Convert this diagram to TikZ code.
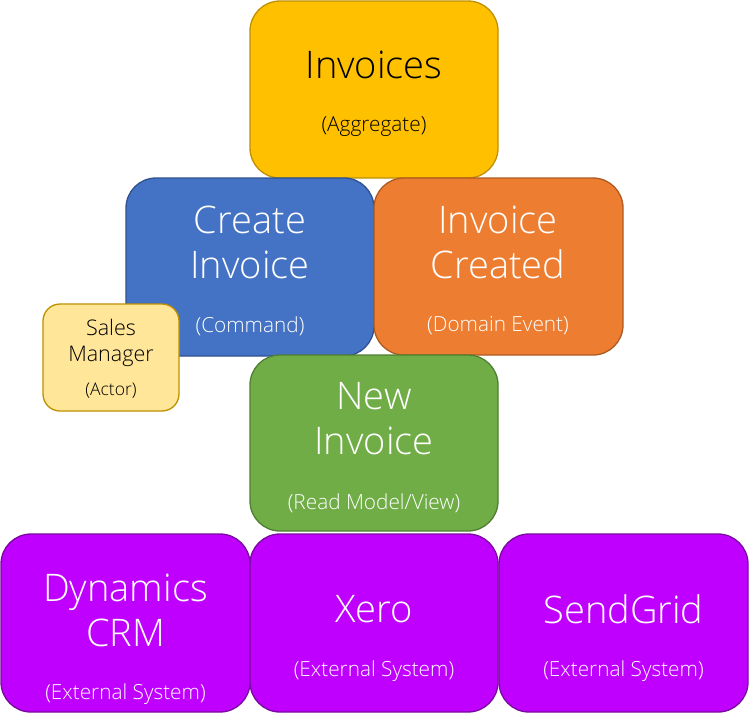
\documentclass[tikz,border=0pt]{standalone}
\usepackage{fontspec}
\setmainfont{Open Sans Light}
\definecolor{aggfill}{HTML}{FFC000}
\definecolor{aggline}{HTML}{BF9000}
\definecolor{cmdfill}{HTML}{4472C4}
\definecolor{cmdline}{HTML}{2F528F}
\definecolor{evtfill}{HTML}{ED7D31}
\definecolor{evtline}{HTML}{AE5A21}
\definecolor{actfill}{HTML}{FFE699}
\definecolor{actline}{HTML}{BF9000}
\definecolor{rmfill}{HTML}{70AD47}
\definecolor{rmline}{HTML}{507E32}
\definecolor{extfill}{HTML}{C000FF}
\definecolor{extline}{HTML}{7A0A9E}
\tikzset{
  box/.style={draw=#1line, fill=#1fill, line width=1.3pt, rounded corners=30pt},
  small/.style={draw=#1line, fill=#1fill, line width=1.3pt, rounded corners=17pt},
  title/.style={font=\fontsize{38}{45}\selectfont, align=center, inner sep=0pt, anchor=center},
  sub/.style={font=\fontsize{20.8}{24}\selectfont, inner sep=0pt, anchor=center},
  atitle/.style={font=\fontsize{21.5}{26}\selectfont, align=center, inner sep=0pt, anchor=center},
  asub/.style={font=\fontsize{17.5}{20}\selectfont, inner sep=0pt, anchor=center},
}
\begin{document}
\begin{tikzpicture}[x=1pt,y=-1pt]
\useasboundingbox (0,0) rectangle (749,718);
% Aggregate
\draw[box=agg] (250,1) rectangle (498,178);
\node[title,text=black] (invT) at (374,65) {Invoices};
\node[sub,text=black] (invS) at (374,127) {(Aggregate)};
% Command
\draw[box=cmd] (126,178) rectangle (374,356);
\node[title,text=white] (cmdT) at (250,242) {Create\\Invoice};
\node[sub,text=white] (cmdS) at (250,326) {(Command)};
% Event
\draw[box=evt] (374,178) rectangle (623,355);
\node[title,text=white] (evtT) at (498,242) {Invoice\\Created};
\node[sub,text=white] (evtS) at (498,326) {(Domain Event)};
% Actor
\draw[small=act] (43,304) rectangle (179,411);
\node[atitle,text=black] (actT) at (111,343) {Sales\\Manager};
\node[asub,text=black] (actS) at (111,391) {(Actor)};
% Read model
\draw[box=rm] (250,355) rectangle (498,531);
\node[title,text=white] (rmT) at (374,418.5) {New\\Invoice};
\node[sub,text=white] (rmS) at (374,503) {(Read Model/View)};
% External systems
\draw[box=ext] (1,534) rectangle (250,712);
\node[title,text=white] (crmT) at (125.5,610.5) {Dynamics\\CRM};
\node[sub,text=white] (crmS) at (125.5,694) {(External System)};
\draw[box=ext] (250,534) rectangle (498,712);
\node[title,text=white] (xeroT) at (374,609) {Xero};
\node[sub,text=white] (xeroS) at (374,671) {(External System)};
\draw[box=ext] (499,534) rectangle (748,712);
\node[title,text=white] (sgT) at (623.5,609) {SendGrid};
\node[sub,text=white] (sgS) at (623.5,671) {(External System)};
\end{tikzpicture}
\end{document}
